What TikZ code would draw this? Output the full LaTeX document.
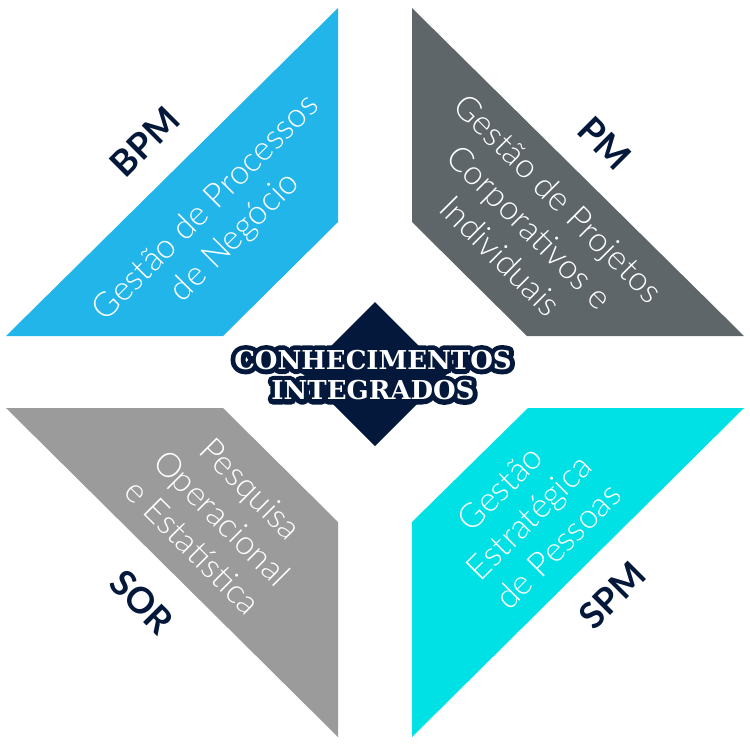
\documentclass[tikz,border=0pt]{standalone}
\usepackage{fontspec}
\setmainfont{Lato}
\newfontfamily\thinfont{Lato Light}
\newfontfamily\titlefont{DejaVu Serif}

\definecolor{bpmblue}{RGB}{34,181,233}
\definecolor{pmgray}{RGB}{94,102,105}
\definecolor{sorgray}{RGB}{155,155,155}
\definecolor{spmcyan}{RGB}{0,225,230}
\definecolor{navy}{RGB}{3,24,58}

% stroked text, used for the outline of the title
\newcommand\strokedtext[1]{\special{pdf:code 2 Tr 4.8 w 1 j 1 J}#1\special{pdf:code 0 Tr}}

\tikzset{
  areatext/.style={text=white, align=center, inner sep=0pt,
    font=\thinfont\fontsize{17}{20.5}\selectfont},
  acronym/.style={text=navy, inner sep=0pt,
    font=\bfseries\fontsize{18}{20}\selectfont},
  titletext/.style={align=center, inner sep=0pt,
    font=\titlefont\bfseries\fontsize{13}{15.25}\selectfont}
}

\begin{document}
\begin{tikzpicture}[x=0.5pt,y=-0.5pt]
  \useasboundingbox (0,0) rectangle (750,750);
  % the four quadrants
  \fill[bpmblue] (6,336) -- (338,8) -- (338,222) -- (223,336) -- cycle;
  \fill[pmgray] (412,8) -- (744,336) -- (527,336) -- (412,222) -- cycle;
  \fill[sorgray] (6,408) -- (223,408) -- (338,522) -- (338,737) -- cycle;
  \fill[spmcyan] (528,408) -- (744,408) -- (412,737) -- (412,522) -- cycle;
  % centre diamond
  \fill[navy] (375,302) -- (447,374) -- (375,446) -- (303,374) -- cycle;

  % area texts
  \node[areatext, rotate=45] (bpmtext) at (221,223) {Gestão de Processos\\de Negócio};
  \node[areatext, rotate=-45] (pmtext) at (530,227) {Gestão de Projetos\\Corporativos e\\Individuais};
  \node[areatext, rotate=-45] (sortext) at (222,518) {Pesquisa\\Operacional\\e Estatística};
  \node[areatext, rotate=45] (spmtext) at (529,517) {Gestão\\Estratégica\\de Pessoas};

  % acronyms
  \node[acronym, rotate=45] (bpm) at (145,142) {BPM};
  \node[acronym, rotate=-45] (pm) at (605,143) {PM};
  \node[acronym, rotate=-45] (sor) at (142,602) {SOR};
  \node[acronym, rotate=45] (spm) at (612,595) {SPM};

  % title, outline first
  \node[titletext, text=navy] (outline) at (373,375)
    {\strokedtext{CONHECIMENTOS}\\\strokedtext{INTEGRADOS}};
  \node[titletext, text=white] (title) at (373,375) {CONHECIMENTOS\\INTEGRADOS};
\end{tikzpicture}
\end{document}
